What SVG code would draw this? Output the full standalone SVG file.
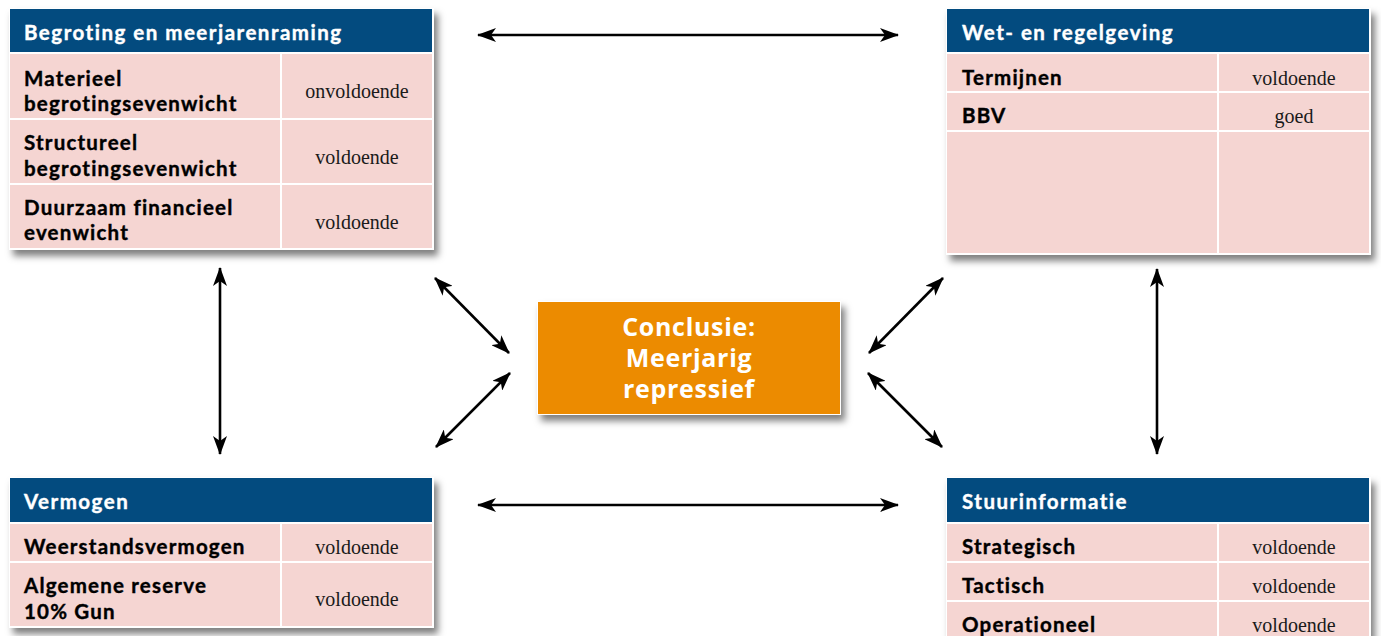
<svg xmlns="http://www.w3.org/2000/svg" width="1381" height="636" viewBox="0 0 1381 636">
<style>
.bg{fill:#ffffff;filter:url(#sh)}
.hd{fill:#034b7f}
.cell{fill:#f5d5d2}
.ht{font-family:Lato,"Open Sans","Liberation Sans",sans-serif;font-weight:700;font-size:20.5px;letter-spacing:1.5px;fill:#ffffff;stroke:#ffffff;stroke-width:0.4px}
.lb{font-family:Lato,"Open Sans","Liberation Sans",sans-serif;font-weight:700;font-size:20.5px;letter-spacing:1.2px;fill:#000000;stroke:#000000;stroke-width:0.4px}
.val{font-family:"Liberation Serif","DejaVu Serif",serif;font-size:20px;fill:#1a1a1a;text-anchor:middle}
.ct{font-family:"Open Sans","Liberation Sans",sans-serif;font-weight:700;font-size:25px;letter-spacing:0.7px;fill:#ffffff;text-anchor:middle}
.conn{stroke:#000;stroke-width:2.6;fill:none;marker-start:url(#ah);marker-end:url(#ah)}
</style>
<defs>
<filter id="sh" x="-5%" y="-8%" width="115%" height="125%">
<feDropShadow dx="4" dy="6" stdDeviation="3.5" flood-color="#000" flood-opacity="0.5"/>
</filter>
<marker id="ah" viewBox="0 0 19 14" refX="18" refY="7" markerWidth="19" markerHeight="14" markerUnits="userSpaceOnUse" orient="auto-start-reverse">
<path d="M0,0 L19,7 L0,14 L5,7 Z" fill="#000"/>
</marker>
</defs>
<rect width="1381" height="636" fill="#ffffff"/>

<g id="connectors">
<line class="conn" x1="478" y1="35" x2="898" y2="35"/>
<line class="conn" x1="478" y1="505" x2="898" y2="505"/>
<line class="conn" x1="220" y1="268" x2="220" y2="454"/>
<line class="conn" x1="1157" y1="269" x2="1157" y2="454"/>
<line class="conn" x1="435" y1="278" x2="509" y2="353"/>
<line class="conn" x1="510" y1="373" x2="436" y2="447"/>
<line class="conn" x1="943" y1="278" x2="869" y2="353"/>
<line class="conn" x1="868" y1="373" x2="942" y2="447"/>
</g>

<g id="begroting">
<rect class="bg" x="9" y="8" width="425" height="242"/>
<rect class="hd" x="10" y="9" width="422" height="43"/>
<rect class="cell" x="10" y="54" width="270" height="64"/>
<rect class="cell" x="282" y="54" width="150" height="64"/>
<rect class="cell" x="10" y="120" width="270" height="63"/>
<rect class="cell" x="282" y="120" width="150" height="63"/>
<rect class="cell" x="10" y="185" width="270" height="63"/>
<rect class="cell" x="282" y="185" width="150" height="63"/>
<text class="ht" x="24" y="40">Begroting en meerjarenraming</text>
<text class="lb" x="24" y="86">Materieel</text>
<text class="lb" x="24" y="111">begrotingsevenwicht</text>
<text class="val" x="357" y="98">onvoldoende</text>
<text class="lb" x="24" y="150">Structureel</text>
<text class="lb" x="24" y="176">begrotingsevenwicht</text>
<text class="val" x="357" y="164">voldoende</text>
<text class="lb" x="24" y="215">Duurzaam financieel</text>
<text class="lb" x="24" y="240">evenwicht</text>
<text class="val" x="357" y="229">voldoende</text>
</g>

<g id="wetgeving">
<rect class="bg" x="946" y="8" width="425" height="247"/>
<rect class="hd" x="947" y="9" width="422" height="43"/>
<rect class="cell" x="947" y="54" width="270" height="37"/>
<rect class="cell" x="1219" y="54" width="150" height="37"/>
<rect class="cell" x="947" y="93" width="270" height="37"/>
<rect class="cell" x="1219" y="93" width="150" height="37"/>
<rect class="cell" x="947" y="132" width="270" height="121"/>
<rect class="cell" x="1219" y="132" width="150" height="121"/>
<text class="ht" x="962" y="40">Wet- en regelgeving</text>
<text class="lb" x="962" y="85">Termijnen</text>
<text class="val" x="1294" y="85">voldoende</text>
<text class="lb" x="962" y="123">BBV</text>
<text class="val" x="1294" y="123">goed</text>
</g>

<g id="conclusie">
<rect x="537" y="301" width="304" height="114" fill="#ffffff" filter="url(#sh)"/>
<rect x="538" y="302" width="302" height="112" fill="#ec8b00"/>
<text class="ct" x="689" y="336">Conclusie:</text>
<text class="ct" x="689" y="367">Meerjarig</text>
<text class="ct" x="689" y="398">repressief</text>
</g>

<g id="vermogen">
<rect class="bg" x="9" y="477" width="425" height="151"/>
<rect class="hd" x="10" y="478" width="422" height="44"/>
<rect class="cell" x="10" y="524" width="270" height="37"/>
<rect class="cell" x="282" y="524" width="150" height="37"/>
<rect class="cell" x="10" y="563" width="270" height="63"/>
<rect class="cell" x="282" y="563" width="150" height="63"/>
<text class="ht" x="24" y="509">Vermogen</text>
<text class="lb" x="24" y="554">Weerstandsvermogen</text>
<text class="val" x="357" y="554">voldoende</text>
<text class="lb" x="24" y="593">Algemene reserve</text>
<text class="lb" x="24" y="619">10% Gun</text>
<text class="val" x="357" y="606">voldoende</text>
</g>

<g id="stuurinformatie">
<rect class="bg" x="946" y="477" width="425" height="170"/>
<rect class="hd" x="947" y="478" width="422" height="44"/>
<rect class="cell" x="947" y="524" width="270" height="37"/>
<rect class="cell" x="1219" y="524" width="150" height="37"/>
<rect class="cell" x="947" y="563" width="270" height="37"/>
<rect class="cell" x="1219" y="563" width="150" height="37"/>
<rect class="cell" x="947" y="602" width="270" height="45"/>
<rect class="cell" x="1219" y="602" width="150" height="45"/>
<text class="ht" x="962" y="509">Stuurinformatie</text>
<text class="lb" x="962" y="554">Strategisch</text>
<text class="val" x="1294" y="554">voldoende</text>
<text class="lb" x="962" y="593">Tactisch</text>
<text class="val" x="1294" y="593">voldoende</text>
<text class="lb" x="962" y="632">Operationeel</text>
<text class="val" x="1294" y="632">voldoende</text>
</g>
</svg>
